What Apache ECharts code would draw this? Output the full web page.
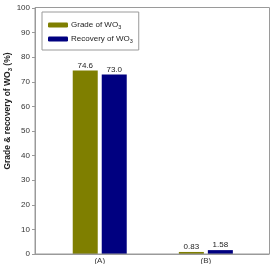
<!DOCTYPE html>
<html>
<head>
<meta charset="utf-8">
<script src="https://cdn.jsdelivr.net/npm/echarts@6/dist/echarts.min.js"></script>
<style>
  html, body { margin: 0; padding: 0; background: #fff; }
  #chart { width: 273px; height: 264px; }
</style>
</head>
<body>
<div id="chart"></div>
<script>
// 数据
var categories = ['(A)', '(B)'];
var gradeValues = [74.6, 0.83];
var recoveryValues = [73.0, 1.58];
var gradeLabels = ['74.6', '0.83'];
var recoveryLabels = ['73.0', '1.58'];

var myChart = echarts.init(document.getElementById('chart'));

var subRich = {
    n: { fontSize: 8, color: '#222', fontFamily: 'Liberation Sans' },
    s: { fontSize: 5.5, color: '#222', fontFamily: 'Liberation Sans', verticalAlign: 'bottom', padding: [4, 0, 0, 0] }
};

// 类别序号作为x值（数值轴，便于控制两组柱子的位置）
function toPairs(values) {
    return values.map(function (v, i) { return [i, v]; });
}

function barLabel(texts) {
    return {
        show: true,
        position: 'top',
        distance: 1,
        fontSize: 8,
        color: '#222',
        fontFamily: 'Liberation Sans',
        formatter: function (p) { return texts[p.dataIndex]; }
    };
}

var option = {
    animation: false,
    grid: { left: 35, right: 4, top: 8, bottom: 10, outerBoundsMode: 'none', containLabel: false },
    // 外框（上、右边）
    graphic: [{
        type: 'rect',
        shape: { x: 35, y: 7.5, width: 234.5, height: 246.5 },
        style: { fill: 'none', stroke: '#9a9a9a', lineWidth: 1 },
        silent: true,
        z: 100
    }],
    legend: {
        orient: 'vertical',
        left: 42,
        top: 12,
        itemWidth: 20,
        itemHeight: 5,
        itemGap: 5,
        padding: [9, 6, 6, 6],
        borderColor: '#9a9a9a',
        borderWidth: 1,
        backgroundColor: '#fff',
        data: ['grade', 'recovery'],
        formatter: function (name) {
            return name === 'grade' ? '{n|Grade of WO}{s|3}' : '{n|Recovery of WO}{s|3}';
        },
        textStyle: { rich: subRich, padding: [0, 0, 0, -2] }
    },
    xAxis: {
        type: 'value',
        min: -0.61,
        max: 1.595,
        splitLine: { show: false },
        axisLine: { show: true, onZero: false, lineStyle: { color: '#9a9a9a' } },
        axisTick: { show: false },
        axisLabel: {
            customValues: [0, 1],
            fontSize: 8,
            color: '#333',
            margin: 3,
            fontFamily: 'Liberation Sans',
            formatter: function (v) { return categories[Math.round(v)]; }
        }
    },
    yAxis: {
        type: 'value',
        min: 0,
        max: 100,
        interval: 10,
        name: '{b|Grade & recovery of WO}{bs|3}{b| (%)}',
        nameLocation: 'middle',
        nameGap: 22,
        nameMoveOverlap: false,
        nameTextStyle: {
            padding: [0, 0, 0, 40],
            rich: {
                b: { fontSize: 8.5, fontWeight: 'bold', color: '#222', fontFamily: 'Liberation Sans' },
                bs: { fontSize: 6, fontWeight: 'bold', color: '#222', fontFamily: 'Liberation Sans', verticalAlign: 'bottom', padding: [4, 0, 0, 0] }
            }
        },
        axisLine: { show: true, onZero: false, lineStyle: { color: '#9a9a9a' } },
        axisTick: { show: true, length: 3, lineStyle: { color: '#9a9a9a' } },
        splitLine: { show: false },
        axisLabel: { fontSize: 8, color: '#333', margin: 5, fontFamily: 'Liberation Sans' }
    },
    series: [{
        name: 'grade',
        type: 'bar',
        barWidth: 25,
        barGap: '16%',
        data: toPairs(gradeValues),
        itemStyle: { color: '#7f7f00' },
        label: barLabel(gradeLabels)
    }, {
        name: 'recovery',
        type: 'bar',
        barWidth: 25,
        barGap: '16%',
        data: toPairs(recoveryValues),
        itemStyle: { color: '#000080' },
        label: barLabel(recoveryLabels)
    }]
};
myChart.setOption(option);
</script>
</body>
</html>
